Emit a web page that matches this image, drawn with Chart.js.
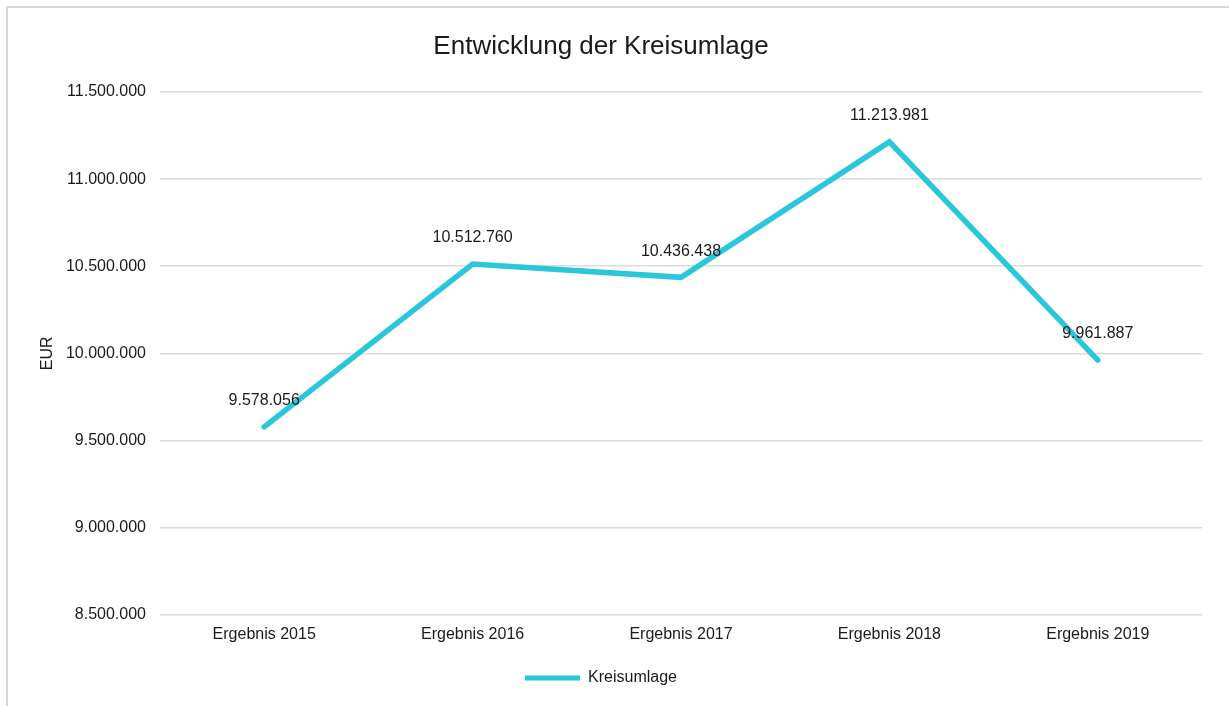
<!DOCTYPE html>
<html>
<head>
<meta charset="utf-8">
<script src="https://cdn.jsdelivr.net/npm/chart.js@4"></script>
<style>
  html, body { margin: 0; padding: 0; background: #fff; }
  #wrap { position: relative; width: 1229px; height: 706px; overflow: hidden; }
  #frame {
    position: absolute; left: 6px; top: 6px; width: 1260px; height: 740px;
    border: 2px solid #d9d9d9; pointer-events: none;
  }
</style>
</head>
<body>
<div id="wrap">
  <canvas id="kreisChart" width="1229" height="706"></canvas>
  <div id="frame"></div>
</div>
<script>
// data
const categories = ["Ergebnis 2015", "Ergebnis 2016", "Ergebnis 2017", "Ergebnis 2018", "Ergebnis 2019"];
const kreisumlage = [9578056, 10512760, 10436438, 11213981, 9961887];
const yTicks = [8500000, 9000000, 9500000, 10000000, 10500000, 11000000, 11500000];

const FONT = "'Liberation Sans', Arial, sans-serif";
const TEXT = "#1a1a1a";
const LINE = "#2ac6d9";

// German number format: 1.234.567
function fmt(v) {
  return String(Math.round(v)).replace(/\B(?=(\d{3})+(?!\d))/g, ".");
}

// draws value labels above each point
const valueLabels = {
  id: "valueLabels",
  afterDatasetsDraw(chart) {
    const ctx = chart.ctx;
    const meta = chart.getDatasetMeta(0);
    ctx.save();
    ctx.font = "16px " + FONT;
    ctx.fillStyle = TEXT;
    ctx.textAlign = "center";
    ctx.textBaseline = "middle";
    meta.data.forEach((pt, i) => {
      ctx.fillText(fmt(kreisumlage[i]), pt.x, pt.y - 26);
    });
    ctx.restore();
  },
};

const ctx = document.getElementById("kreisChart").getContext("2d");
const chart = new Chart(ctx, {
  type: "line",
  data: {
    labels: categories,
    datasets: [
      {
        label: "Kreisumlage",
        data: kreisumlage,
        borderColor: LINE,
        backgroundColor: LINE,
        borderWidth: 5.5,
        borderCapStyle: "round",
        borderJoinStyle: "miter",
        pointRadius: 0,
        pointHoverRadius: 0,
        tension: 0,
        fill: false,
      },
    ],
  },
  options: {
    responsive: false,
    animation: false,
    layout: { padding: { left: 0, right: 27, top: 0, bottom: 10 } },
    plugins: {
      title: {
        display: true,
        text: "Entwicklung der Kreisumlage",
        color: TEXT,
        font: { family: FONT, size: 26, weight: "normal" },
        padding: { top: 31, bottom: 29.8 },
      },
      legend: {
        position: "bottom",
        labels: {
          color: TEXT,
          font: { family: FONT, size: 16 },
          boxWidth: 55,
          boxHeight: 5,
          useBorderRadius: true,
          borderRadius: 2.5,
          padding: 16,
          generateLabels(chart) {
            return chart.data.datasets.map((ds, i) => ({
              text: ds.label,
              fillStyle: ds.borderColor,
              strokeStyle: ds.borderColor,
              lineWidth: 0,
              hidden: false,
              datasetIndex: i,
              fontColor: TEXT,
            }));
          },
        },
      },
      tooltip: { enabled: false },
    },
    scales: {
      x: {
        offset: true,
        grid: { display: false, drawTicks: false },
        border: { display: false },
        ticks: {
          color: TEXT,
          font: { family: FONT, size: 16 },
          padding: 10,
          maxRotation: 0,
          minRotation: 0,
        },
      },
      y: {
        min: yTicks[0],
        max: yTicks[yTicks.length - 1],
        afterBuildTicks(scale) {
          scale.ticks = yTicks.map((v) => ({ value: v }));
        },
        afterFit(scale) {
          scale.width = 160;
        },
        grid: { color: "#dcdcdc", lineWidth: 1.6, drawTicks: false },
        border: { display: false },
        ticks: {
          color: TEXT,
          font: { family: FONT, size: 16 },
          padding: 14,
          callback: (v) => fmt(v),
        },
        title: {
          display: true,
          text: "EUR",
          color: TEXT,
          font: { family: FONT, size: 16 },
          padding: { top: 38, bottom: 0 },
        },
      },
    },
  },
  plugins: [valueLabels],
});
</script>
</body>
</html>
